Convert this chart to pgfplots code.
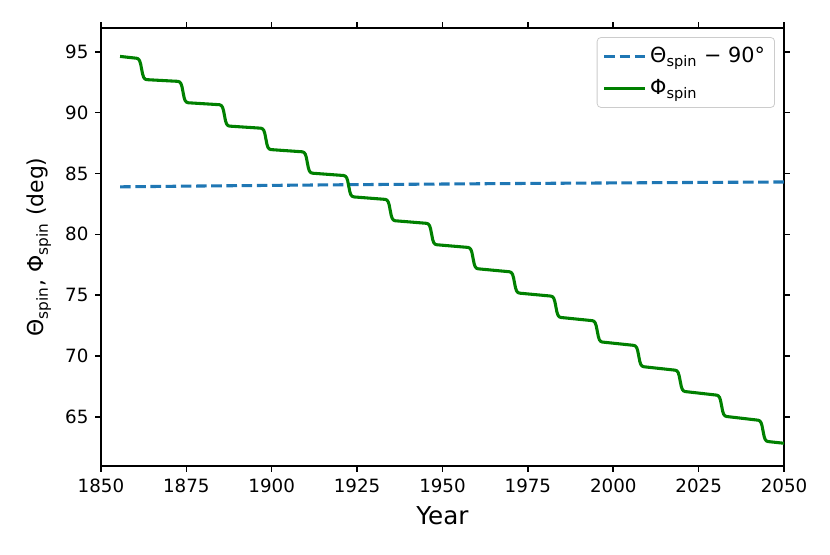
\documentclass[border=0pt]{standalone}
\usepackage{fontspec}
\setmainfont{DejaVu Sans}
\usepackage{pgfplots}
\pgfplotsset{compat=1.18}
\definecolor{mplblue}{HTML}{1F77B4}
\definecolor{mplgreen}{rgb}{0,0.5,0}

\begin{document}
\begin{tikzpicture}
\path[use as bounding box] (-52.5pt,-45.8pt) rectangle (379.1pt,242.4pt);
\begin{axis}[
  at={(0pt,0pt)}, anchor=south west, scale only axis,
  width=355.2pt, height=227.8pt,
  xmin=1850, xmax=2050, ymin=60.94, ymax=96.95,
  xtick={1850,1875,...,2050}, ytick={65,70,...,95},
  minor tick num=0,
  tick align=outside, major tick length=3pt,
  every tick/.style={black, line width=0.8pt},
  axis line style={line width=0.8pt},
  tick label style={font=\fontsize{9.5}{11}\selectfont},
  /pgf/number format/assume math mode=true,
  /pgf/number format/1000 sep={},
  xlabel={Year},
  ylabel={Θ\textsubscript{spin}, Φ\textsubscript{spin} (deg)},
  xlabel style={font=\fontsize{12.8}{15}\selectfont, at={(axis description cs:0.5,-0.1141)}, anchor=center},
  ylabel style={font=\fontsize{11.4}{13}\selectfont, at={(axis description cs:-0.0907,0.5)}, anchor=center, rotate=0},
  legend style={at={(axis description cs:1,1)}, anchor=north east, xshift=-4.7pt, yshift=-4.7pt,
    draw=black!20, rounded corners=2pt, font=\fontsize{10.8}{13}\selectfont, row sep=3.5pt,
    inner xsep=3pt, inner ysep=3pt},
  legend cell align=left,
  legend image code/.code={\draw[#1] (0pt,0pt) -- (21pt,0pt);},
]
\addplot[mplblue, line width=1.6pt, dash pattern=on 5.5pt off 2.4pt] coordinates {
(1855.6,83.90) (1880,83.97) (1900,84.02) (1925,84.08) (1950,84.13)
(1975,84.18) (2000,84.22) (2025,84.26) (2050,84.30)
};
\addlegendentry{Θ\textsubscript{spin}\ −\ 90°}
\addplot[mplgreen, line width=1.6pt, line join=round] coordinates {
(1855.60,94.62)
(1860.40,94.47) (1860.90,94.42) (1861.30,94.28) (1861.60,94.02) (1861.90,93.59) (1862.20,93.16) (1862.50,92.90) (1862.90,92.76) (1863.40,92.71)
(1872.53,92.57) (1873.03,92.52) (1873.43,92.38) (1873.73,92.12) (1874.03,91.69) (1874.33,91.26) (1874.63,91.00) (1875.03,90.86) (1875.53,90.81)
(1884.66,90.65) (1885.16,90.60) (1885.56,90.46) (1885.86,90.20) (1886.16,89.77) (1886.46,89.34) (1886.76,89.08) (1887.16,88.94) (1887.66,88.89)
(1896.79,88.72) (1897.29,88.67) (1897.69,88.53) (1897.99,88.27) (1898.29,87.84) (1898.59,87.41) (1898.89,87.15) (1899.29,87.01) (1899.79,86.96)
(1908.92,86.78) (1909.42,86.73) (1909.82,86.59) (1910.12,86.33) (1910.42,85.90) (1910.72,85.47) (1911.02,85.21) (1911.42,85.07) (1911.92,85.02)
(1921.05,84.83) (1921.55,84.78) (1921.95,84.64) (1922.25,84.38) (1922.55,83.95) (1922.85,83.52) (1923.15,83.26) (1923.55,83.12) (1924.05,83.07)
(1933.18,82.87) (1933.68,82.82) (1934.08,82.68) (1934.38,82.42) (1934.68,81.99) (1934.98,81.56) (1935.28,81.30) (1935.68,81.16) (1936.18,81.11)
(1945.31,80.90) (1945.81,80.85) (1946.21,80.71) (1946.51,80.45) (1946.81,80.02) (1947.11,79.59) (1947.41,79.33) (1947.81,79.19) (1948.31,79.14)
(1957.44,78.92) (1957.94,78.87) (1958.34,78.73) (1958.64,78.47) (1958.94,78.04) (1959.24,77.61) (1959.54,77.35) (1959.94,77.21) (1960.44,77.16)
(1969.57,76.92) (1970.07,76.87) (1970.47,76.73) (1970.77,76.47) (1971.07,76.04) (1971.37,75.61) (1971.67,75.35) (1972.07,75.21) (1972.57,75.16)
(1981.70,74.92) (1982.20,74.87) (1982.60,74.73) (1982.90,74.47) (1983.20,74.04) (1983.50,73.61) (1983.80,73.35) (1984.20,73.21) (1984.70,73.16)
(1993.83,72.90) (1994.33,72.85) (1994.73,72.71) (1995.03,72.45) (1995.33,72.02) (1995.63,71.59) (1995.93,71.33) (1996.33,71.19) (1996.83,71.14)
(2005.96,70.87) (2006.46,70.82) (2006.86,70.68) (2007.16,70.42) (2007.46,69.99) (2007.76,69.56) (2008.06,69.30) (2008.46,69.16) (2008.96,69.11)
(2018.09,68.83) (2018.59,68.78) (2018.99,68.64) (2019.29,68.38) (2019.59,67.95) (2019.89,67.52) (2020.19,67.26) (2020.59,67.12) (2021.09,67.07)
(2030.22,66.78) (2030.72,66.73) (2031.12,66.59) (2031.42,66.33) (2031.72,65.90) (2032.02,65.47) (2032.32,65.21) (2032.72,65.07) (2033.22,65.02)
(2042.35,64.72) (2042.85,64.67) (2043.25,64.53) (2043.55,64.27) (2043.85,63.84) (2044.15,63.41) (2044.45,63.15) (2044.85,63.01) (2045.35,62.96)
(2050.00,62.82)
};
\addlegendentry{Φ\textsubscript{spin}}
\end{axis}
\end{tikzpicture}
\end{document}
